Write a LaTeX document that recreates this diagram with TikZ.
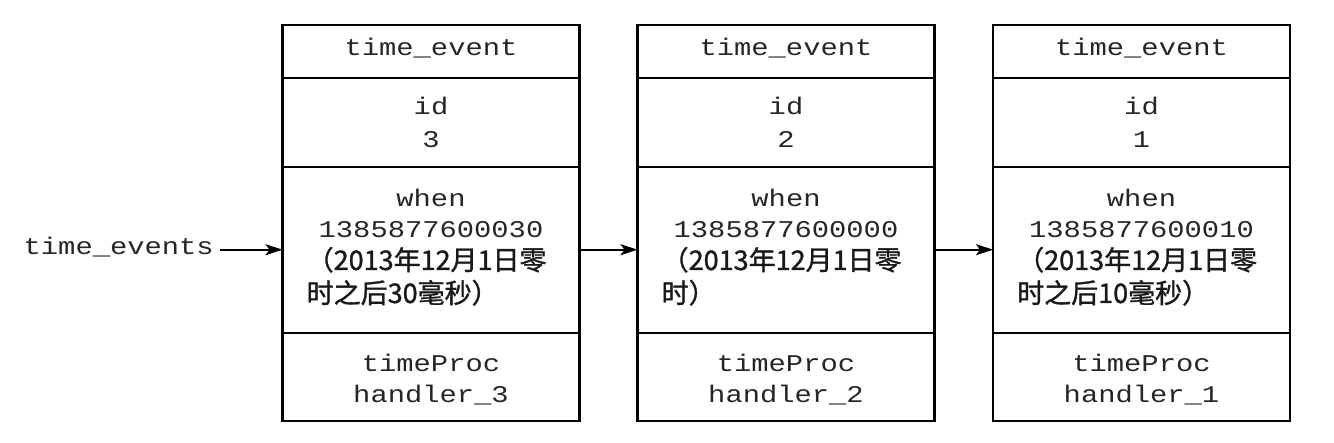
\documentclass[tikz,border=0pt]{standalone}
\usepackage{fontspec}
\setmonofont[FakeStretch=1.2]{Liberation Mono}
\newfontfamily\cjk[FakeBold=1.2]{Noto Sans CJK SC}
\usetikzlibrary{arrows.meta}
\newcommand\evbox[7]{%
  \node[cell, minimum height=52.7pt] (#1t) at (#2,51.35) {};
  \node[cell, minimum height=89pt] (#1i) at (#2,122.2) {};
  \node[cell, minimum height=166pt] (#1w) at (#2,249.7) {};
  \node[cell, minimum height=88.3pt] (#1p) at (#2,376.85) {};
  \node[mono] (#1tl) at (#2,56) {time\_event};
  \node[mono] (#1il) at (#2,115) {id};
  \node[mono] (#1iv) at (#2,148) {#3};
  \node[mono] (#1wl) at (#2,207) {when};
  \node[mono] (#1wv) at (#2,238) {#4};
  \node[cjkt] (#1ca) at (#2-124.5,270) {#5};
  \node[cjkt] (#1cb) at (#2-124.5,303) {#6};
  \node[mono] (#1pl) at (#2,372) {timeProc};
  \node[mono] (#1pv) at (#2,403) {handler\_#7};
}
\begin{document}
\begin{tikzpicture}[x=1pt,y=-1pt,
  cell/.style={draw, line width=2.3pt, minimum width=297pt, inner sep=0pt, outer sep=0pt},
  mono/.style={font=\fontsize{24}{24}\selectfont\ttfamily, anchor=base, inner sep=0pt, text=black!85},
  cjkt/.style={font=\fontsize{27}{27}\selectfont\cjk, anchor=base west, inner sep=0pt, text=black!90},
  arr/.style={-{Stealth[length=17pt,width=11pt,inset=4pt]}, line width=1.8pt}]
\fill[white] (0,0) rectangle (1334,443);
\useasboundingbox (0,0) rectangle (1334,443);
\evbox{b1}{431}{3}{1385877600030}{（2013年12月1日零}{时之后30毫秒）}{3}
\evbox{b2}{786}{2}{1385877600000}{（2013年12月1日零}{时）}{2}
\evbox{b3}{1141.5}{1}{1385877600010}{（2013年12月1日零}{时之后10毫秒）}{1}
\node[mono, anchor=base east] (lbl) at (214,255) {time\_events};
\draw[arr] (lbl.east |- b1w.west) ++(6,0) -- (b1w.west);
\draw[arr] (b1w.east) -- (b2w.west);
\draw[arr] (b2w.east) -- (b3w.west);
\end{tikzpicture}
\end{document}
